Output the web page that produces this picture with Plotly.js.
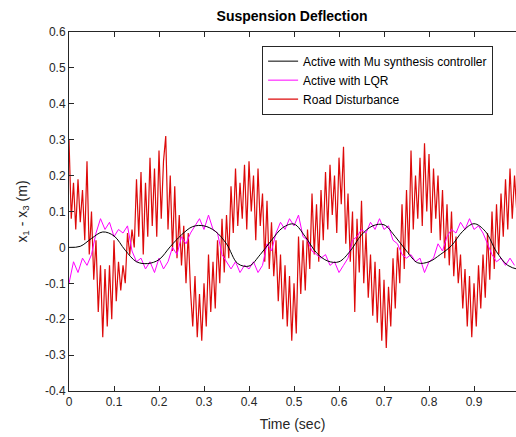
<!DOCTYPE html>
<html>
<head>
<meta charset="utf-8">
<script src="https://cdn.plot.ly/plotly-3.0.1.min.js"></script>
<style>html,body{margin:0;padding:0;background:#fff;}#chart{width:516px;height:437px;}</style>
</head>
<body>
<div id="chart"></div>
<script>
// Mu synthesis controller (sampled every 0.025 s)
const tMu = [0,0.025,0.05,0.075,0.1,0.125,0.15,0.175,0.2,0.225,0.25,0.275,0.3,0.325,0.35,0.375,0.4,0.425,0.45,0.475,0.5,0.525,0.55,0.575,0.6,0.625,0.65,0.675,0.7,0.725,0.75,0.775,0.8,0.825,0.85,0.875,0.9,0.925,0.95,0.975,1.0];
const muVals = [0,0.003,0.025,0.043,0.032,-0.008,-0.040,-0.045,-0.034,0.002,0.035,0.058,0.060,0.045,0.010,-0.045,-0.052,-0.020,0.020,0.055,0.065,0.030,-0.015,-0.038,-0.040,-0.010,0.035,0.060,0.063,0.030,-0.010,-0.043,-0.040,-0.020,0.005,0.045,0.066,0.045,-0.012,-0.050,-0.062];

// LQR (sampled every 0.01 s)
const tLqr = [0,0.01,0.02,0.03,0.04,0.05,0.06,0.07,0.08,0.09,0.1,0.11,0.12,0.13,0.14,0.15,0.16,0.17,0.18,0.19,0.2,0.21,0.22,0.23,0.24,0.25,0.26,0.27,0.28,0.29,0.3,0.31,0.32,0.33,0.34,0.35,0.36,0.37,0.38,0.39,0.4,0.41,0.42,0.43,0.44,0.45,0.46,0.47,0.48,0.49,0.5,0.51,0.52,0.53,0.54,0.55,0.56,0.57,0.58,0.59,0.6,0.61,0.62,0.63,0.64,0.65,0.66,0.67,0.68,0.69,0.7,0.71,0.72,0.73,0.74,0.75,0.76,0.77,0.78,0.79,0.8,0.81,0.82,0.83,0.84,0.85,0.86,0.87,0.88,0.89,0.9,0.91,0.92,0.93,0.94,0.95,0.96,0.97,0.98,0.99];
const lqrVals = [-0.10,-0.04,-0.07,-0.03,-0.05,-0.02,0.04,0.08,0.05,0.07,0.03,0.05,0.04,0.06,-0.01,-0.04,-0.03,-0.06,-0.04,-0.07,-0.03,-0.06,-0.04,0.00,-0.02,0.03,0.01,0.04,0.06,0.08,0.05,0.09,0.05,0.04,-0.02,-0.04,-0.06,-0.04,-0.07,-0.05,-0.06,-0.04,-0.07,-0.05,0.01,-0.01,0.04,0.07,0.05,0.08,0.06,0.09,0.03,0.02,-0.01,-0.02,-0.03,-0.02,-0.05,-0.04,-0.07,-0.05,-0.03,0.02,0.03,0.05,0.04,0.07,0.05,0.08,0.05,0.06,0.02,0.01,-0.02,-0.03,-0.02,-0.04,-0.03,-0.07,-0.04,-0.03,0.01,-0.01,0.03,0.05,0.04,0.07,0.05,0.08,0.05,0.06,0.04,0.01,-0.02,-0.04,-0.03,-0.05,-0.03,-0.05];

// Road disturbance (sampled every 0.005 s)
const roadVals = [0.30,0.08,0.18,0.05,0.19,0.07,0.16,0.02,0.24,-0.02,
0.10,-0.09,0.02,-0.18,-0.05,-0.25,-0.06,-0.22,-0.05,-0.20,
0.02,-0.15,-0.04,-0.12,-0.05,-0.10,0.04,-0.02,0.05,0.00,
0.19,0.03,0.21,-0.02,0.18,0.03,0.25,0.06,0.22,0.03,
0.27,0.08,0.24,0.31,0.05,0.20,-0.01,0.17,-0.03,0.09,
-0.05,0.06,-0.10,0.04,-0.12,-0.22,-0.08,-0.25,-0.13,-0.26,
-0.10,-0.22,-0.02,-0.18,-0.04,-0.17,0.02,-0.10,0.08,-0.07,
0.09,-0.03,0.17,0.04,0.22,0.06,0.18,0.08,0.23,0.05,
0.24,0.10,0.20,0.02,0.22,0.06,0.15,-0.04,0.13,-0.06,
0.07,-0.08,0.02,-0.15,-0.02,-0.20,-0.05,-0.22,-0.08,-0.26,
-0.10,-0.24,0.03,-0.13,0.02,-0.12,0.05,-0.06,0.15,-0.02,
0.12,-0.04,0.16,0.02,0.21,0.05,0.23,0.09,0.20,0.04,
0.25,0.12,0.28,0.01,0.15,-0.04,0.10,-0.18,0.08,-0.07,
0.13,-0.10,0.04,-0.14,-0.02,-0.19,-0.04,-0.21,-0.06,-0.26,
-0.09,-0.28,-0.11,-0.22,-0.03,-0.17,0.00,-0.10,0.12,-0.06,
0.16,-0.02,0.27,0.05,0.20,0.08,0.25,0.06,0.29,0.10,
0.26,0.04,0.22,0.08,0.20,0.02,0.16,-0.03,0.12,-0.05,
0.10,-0.08,0.03,-0.10,-0.02,-0.17,-0.06,-0.22,-0.08,-0.25,
-0.10,-0.22,-0.05,-0.17,-0.02,-0.14,0.04,-0.09,0.10,-0.06,
0.12,-0.02,0.15,0.03,0.19,0.05,0.22,0.08,0.20,0.10];
const roadStep = 0.005;
const tRoad = roadVals.map((_, i) => +(i * roadStep).toFixed(3));

const xTicks = [0,0.1,0.2,0.3,0.4,0.5,0.6,0.7,0.8,0.9];
const yTicks = [-0.4,-0.3,-0.2,-0.1,0,0.1,0.2,0.3,0.4,0.5,0.6];

const font = "Liberation Sans, Arial, Helvetica, sans-serif";
const axisCol = "#262626";

const traces = [
  {x: tRoad, y: roadVals, type: "scatter", mode: "lines", name: "Road Disturbance",
   line: {color: "#dd0a0a", width: 1.2}, legendrank: 3},
  {x: tLqr, y: lqrVals, type: "scatter", mode: "lines", name: "Active with LQR",
   line: {color: "#ff00ff", width: 1}, legendrank: 2},
  {x: tMu, y: muVals, type: "scatter", mode: "lines", name: "Active with Mu synthesis controller",
   line: {color: "#000000", width: 1, shape: "spline"}, legendrank: 1}
];

const layout = {
  width: 516, height: 437,
  margin: {l: 69, r: 0, t: 32, b: 46, pad: 0},
  paper_bgcolor: "#ffffff", plot_bgcolor: "#ffffff",
  font: {family: font, size: 12, color: axisCol},
  title: {text: "<b>Suspension Deflection</b>", x: 0.566, xanchor: "center", y: 0.974, yanchor: "top",
          font: {family: font, size: 14, color: "#000000"}},
  showlegend: true,
  legend: {x: 0.432, y: 0.962, xanchor: "left", yanchor: "top",
           bgcolor: "#ffffff", bordercolor: axisCol, borderwidth: 1,
           font: {family: font, size: 12, color: "#000000"}, tracegroupgap: 0},
  xaxis: {range: [0, 0.9933], tickvals: xTicks, ticktext: xTicks.map(String),
          ticks: "inside", ticklen: 5, tickcolor: axisCol, showline: true, linecolor: axisCol, linewidth: 1,
          mirror: "ticks", showgrid: false, zeroline: false,
          tickfont: {family: font, size: 12, color: axisCol},
          title: {text: "Time (sec)", font: {family: font, size: 14, color: axisCol}, standoff: 10}},
  yaxis: {range: [-0.4, 0.6], tickvals: yTicks, ticktext: yTicks.map(String),
          ticks: "inside", ticklen: 5, tickcolor: axisCol, showline: true, linecolor: axisCol, linewidth: 1,
          mirror: false, showgrid: false, zeroline: false,
          tickfont: {family: font, size: 12, color: axisCol},
          title: {text: "x<sub>1</sub> - x<sub>3</sub> (m)", font: {family: font, size: 14, color: axisCol}, standoff: 14}}
};

Plotly.newPlot("chart", traces, layout, {displayModeBar: false, staticPlot: true});
</script>
</body>
</html>
